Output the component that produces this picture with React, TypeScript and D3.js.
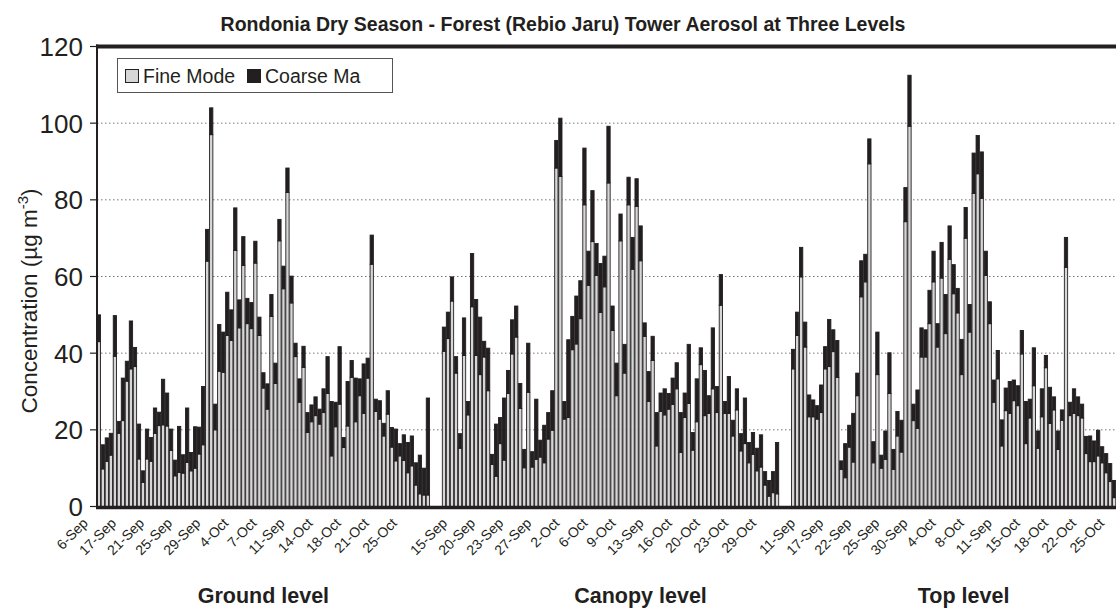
import React, { useRef, useEffect } from 'react';
import * as d3 from 'd3';

// Fine mode / coarse mode concentrations (ug m-3), one value per sample
const groundFine = [43, 9.8, 11.8, 13.4, 39.2, 19.1, 22.4, 32.7, 35.9, 36.5, 12.4, 6.3, 12.4, 11.8, 19.1, 21.1, 21.3, 21, 14.6, 8, 8.9, 8.7, 11.5, 9.3, 10, 13.7, 16.1, 64, 97, 20, 35.3, 35, 44.6, 43.3, 66.8, 46.6, 62.9, 47.7, 46.4, 63.5, 44.6, 30.9, 25.4, 49.6, 32.1, 69.3, 56.8, 81.9, 53.1, 39.1, 27.2, 36.3, 19.3, 22.1, 23.7, 21.5, 24.5, 29.5, 13.2, 20.8, 26.7, 15.4, 21, 33.7, 22.1, 28.9, 24.3, 33.5, 63.2, 24.8, 22.8, 18.4, 24.1, 15.5, 11.9, 13.2, 12, 8.8, 10.6, 5.6, 3.3, 3, 3];
const groundCoarse = [7, 6.3, 6.1, 5.7, 10.6, 3.1, 11.1, 5.2, 12.5, 5, 9.1, 3, 7.8, 6.2, 6.6, 3.5, 11.9, 8.6, 5.6, 4.1, 12, 4.8, 14.2, 4.8, 10.8, 7, 15.2, 8.3, 7, 6.7, 12.2, 10.5, 11.3, 8, 11.1, 7.3, 7.5, 6.6, 6.8, 5.7, 4.8, 4, 6.6, 5.7, 5.3, 5.6, 5.9, 6.4, 7, 3.5, 6.1, 5.5, 5.2, 4.4, 4.9, 3.9, 6.2, 9.6, 14.2, 6.4, 15, 2.6, 11.6, 4.4, 11.4, 4.4, 12.9, 5.2, 7.6, 3.2, 4.8, 3.3, 6.1, 5.1, 8.3, 3.2, 6.7, 7.9, 7.8, 5.8, 10.1, 7, 25.3];

const canopyFine = [40.5, 43.8, 53.6, 34.8, 15.2, 39.4, 23.9, 52.1, 39.4, 34.4, 39, 30.2, 11, 7.9, 16.4, 12.1, 29.5, 39.8, 44.2, 25.6, 10.1, 29.8, 10.3, 12.3, 12.9, 11.4, 17.6, 19.9, 88.3, 86.1, 22.8, 23.2, 40.9, 42.4, 49, 78.7, 57.7, 69.1, 60.3, 50.6, 57.3, 84.4, 45.9, 28.9, 69.3, 34.8, 78.7, 61.9, 78.3, 64.1, 44.4, 27.4, 38.1, 15.8, 24.8, 23.9, 25.4, 26.6, 30.7, 14.1, 23.2, 26.9, 14.7, 22.1, 37, 23.7, 24.3, 30.7, 24.5, 52.5, 24.3, 24.3, 18.4, 25.2, 14.5, 16.4, 11.4, 13.6, 9.3, 10.3, 5.6, 2.7, 3.6, 3.3];
const canopyCoarse = [6.3, 6.9, 6.3, 4.3, 3.8, 9.8, 3.5, 13.9, 14.6, 15, 4.1, 11.1, 2.6, 13.6, 6.8, 16.2, 6, 8.9, 8.1, 6.5, 4.8, 12.8, 4, 15.7, 4.4, 9.8, 6.9, 10.3, 7.2, 15.2, 4.6, 20.3, 8.7, 12.5, 9.9, 14.8, 8.9, 13.3, 8.3, 12.8, 8, 14.8, 6.4, 8.5, 7, 7.5, 7.2, 8.3, 7.2, 9.1, 3.5, 7.8, 6.3, 8.7, 4.8, 6.8, 4.1, 6.9, 6.8, 10.4, 6.4, 15.4, 4.6, 11.2, 4.4, 11.8, 4.6, 15.9, 6.8, 8, 3.1, 9.6, 4.1, 5.5, 4.5, 11.9, 5.3, 5.7, 5.9, 8.4, 3.5, 4.1, 5.5, 13.4];

const topFine = [35.9, 44.6, 59.9, 41.6, 23.4, 23.4, 22.8, 24.5, 35.9, 36.5, 40.4, 33.7, 9.7, 7.5, 15.5, 11.6, 28.9, 54.7, 58.6, 89.4, 11.4, 34.4, 10, 12.3, 29.5, 9.7, 18.4, 14.2, 74.3, 99.2, 22.4, 20.4, 39, 39, 47.7, 58.6, 41.6, 59.6, 45.1, 64.5, 55.5, 50.5, 34.4, 70, 45.5, 81.7, 86.8, 80.4, 60.3, 47.7, 27.2, 33.3, 15.8, 25, 24.3, 27.6, 26.3, 39.8, 16.4, 23.1, 31.5, 15.2, 23.4, 36.2, 21.7, 25.2, 14.9, 22.5, 62.4, 23.7, 24.3, 23.7, 23.1, 13.8, 11.7, 11.7, 13.2, 11.4, 8.8, 6.5, 2.3];
const topCoarse = [5.1, 6.1, 7.7, 6.5, 5.7, 4.4, 3.5, 7.2, 5.8, 12.3, 5.7, 9.6, 2.2, 8.9, 5.7, 12.7, 5.9, 9.4, 7.2, 6.5, 5.5, 11.1, 3.4, 7.4, 10.6, 5.2, 6.4, 8.3, 8.9, 13.3, 4.3, 10, 7.6, 7.1, 8.7, 8, 6.1, 9.3, 10.2, 8.7, 7.6, 6.4, 9.2, 8, 7.2, 10.5, 10, 12.1, 6.3, 5.7, 5.8, 7.4, 6.8, 5.9, 8.3, 5.4, 5.2, 6.1, 11, 4.9, 9.9, 4.5, 7.3, 3.2, 9.4, 3.4, 4.8, 2.7, 7.8, 3.5, 6.4, 4.9, 3.6, 4.5, 6.7, 5.4, 6.7, 4.2, 5, 4.7, 4.5];

// date labels shown under each group (every 7th sample)
const groundTicks = ['6-Sep', '17-Sep', '21-Sep', '25-Sep', '29-Sep', '4-Oct', '7-Oct', '11-Sep', '14-Oct', '18-Oct', '21-Oct', '25-Oct'];
const canopyTicks = ['15-Sep', '20-Sep', '23-Sep', '27-Sep', '2-Oct', '6-Oct', '9-Oct', '13-Sep', '16-Oct', '20-Oct', '23-Oct', '29-Oct'];
const topTicks = ['11-Sep', '17-Sep', '22-Sep', '25-Sep', '30-Sep', '4-Oct', '8-Oct', '11-Sep', '15-Oct', '18-Oct', '22-Oct', '25-Oct'];

const groupNames = ['Ground level', 'Canopy level', 'Top level'];
const yTicks = [0, 20, 40, 60, 80, 100, 120];

interface Cat {
    key: string;
    fine: number;
    coarse: number;
    label: string | null;
    gap: boolean;
    group: number;
}

const GAP = 3;
const LABEL_STEP = 7;
// small per-group nudges (px) for tick labels and group names
const labelShift = [-10, 4, 3];
const nameShift = [0, 30, 10];

function buildCategories(): Cat[] {
    const groups = [
        { fine: groundFine, coarse: groundCoarse, ticks: groundTicks },
        { fine: canopyFine, coarse: canopyCoarse, ticks: canopyTicks },
        { fine: topFine, coarse: topCoarse, ticks: topTicks },
    ];
    const cats: Cat[] = [];
    groups.forEach((g, gi) => {
        if (gi > 0) {
            for (let k = 0; k < GAP; k++) {
                cats.push({ key: `gap${gi}-${k}`, fine: 0, coarse: 0, label: null, gap: true, group: -1 });
            }
        }
        g.fine.forEach((f, i) => {
            const label = i % LABEL_STEP === 0 ? g.ticks[i / LABEL_STEP] ?? null : null;
            cats.push({ key: `g${gi}-${i}`, fine: f, coarse: g.coarse[i], label, gap: false, group: gi });
        });
    });
    return cats;
}

const Chart: React.FC = () => {
    const ref = useRef<SVGSVGElement>(null);

    useEffect(() => {
        if (ref.current) draw();
    }, []);

    const draw = () => {
        const svg = d3.select(ref.current);
        svg.selectAll('*').remove();

        const font = 'Liberation Sans, Arial, sans-serif';
        const dark = '#231f20';
        const left = 97, right = 1116, top = 46.5, bottom = 506.5;

        const cats = buildCategories();

        const x = d3.scaleBand<string>()
            .domain(cats.map(d => d.key))
            .range([left, right])
            .paddingInner(0.18)
            .paddingOuter(0.05);

        const y = d3.scaleLinear().domain([0, 120]).range([bottom, top]);

        const stacked = d3.stack<Cat>().keys(['fine', 'coarse'])(cats);

        // title
        svg.append('text')
            .attr('x', 563).attr('y', 31)
            .attr('text-anchor', 'middle')
            .attr('font-family', font).attr('font-weight', 'bold').attr('font-size', 19.5)
            .attr('fill', dark)
            .text('Rondonia Dry Season - Forest (Rebio Jaru) Tower Aerosol at Three Levels');

        // gridlines
        svg.append('g')
            .selectAll('line')
            .data(yTicks.filter(t => t > 0 && t < 120))
            .enter().append('line')
            .attr('x1', left).attr('x2', right)
            .attr('y1', d => y(d)).attr('y2', d => y(d))
            .attr('stroke', '#777').attr('stroke-width', 1)
            .attr('stroke-dasharray', '1.5,2.5');

        // bars
        const colors = ['#d6d6d6', dark];
        stacked.forEach((layer, li) => {
            svg.append('g')
                .selectAll('rect')
                .data(layer.filter(d => !d.data.gap))
                .enter().append('rect')
                .attr('x', d => x(d.data.key)!)
                .attr('width', x.bandwidth())
                .attr('y', d => y(d[1]))
                .attr('height', d => y(d[0]) - y(d[1]))
                .attr('fill', colors[li])
                .attr('stroke', dark)
                .attr('stroke-width', 0.9);
        });

        // frame: left axis, thick top border, thick base line
        svg.append('line')
            .attr('x1', left).attr('x2', left).attr('y1', top - 2).attr('y2', bottom + 2)
            .attr('stroke', dark).attr('stroke-width', 2);
        svg.append('line')
            .attr('x1', left - 1).attr('x2', right).attr('y1', top).attr('y2', top)
            .attr('stroke', dark).attr('stroke-width', 4);
        svg.append('line')
            .attr('x1', left - 1).attr('x2', right).attr('y1', bottom + 1).attr('y2', bottom + 1)
            .attr('stroke', dark).attr('stroke-width', 3.5);

        // y axis ticks + labels
        const yAxis = svg.append('g');
        yAxis.selectAll('line')
            .data(yTicks)
            .enter().append('line')
            .attr('x1', left - 7).attr('x2', left)
            .attr('y1', d => y(d)).attr('y2', d => y(d))
            .attr('stroke', dark).attr('stroke-width', 1.2);
        yAxis.selectAll('text')
            .data(yTicks)
            .enter().append('text')
            .attr('x', 83).attr('y', d => y(d))
            .attr('dy', '0.36em')
            .attr('text-anchor', 'end')
            .attr('font-family', font).attr('font-size', 26)
            .attr('fill', dark)
            .text(d => d);

        // y title with superscript
        const yTitle = svg.append('text')
            .attr('transform', 'translate(37,301) rotate(-90)')
            .attr('text-anchor', 'middle')
            .attr('font-family', font).attr('font-size', 22.5)
            .attr('fill', dark);
        yTitle.append('tspan').text('Concentration (\u00b5g m');
        yTitle.append('tspan').attr('dy', -9).attr('font-size', 15).text('-3');
        yTitle.append('tspan').attr('dy', 9).text(')');

        // x tick labels (rotated)
        svg.append('g')
            .selectAll('text')
            .data(cats.filter(d => d.label))
            .enter().append('text')
            .attr('transform', d => `translate(${x(d.key)! + x.bandwidth() / 2 + labelShift[d.group]},524) rotate(-45)`)
            .attr('text-anchor', 'end')
            .attr('font-family', font).attr('font-size', 14)
            .attr('fill', dark)
            .text(d => d.label as string);

        // group names under their bars
        svg.append('g')
            .selectAll('text')
            .data(groupNames)
            .enter().append('text')
            .attr('x', (d, gi) => {
                const g = cats.filter(c => c.group === gi);
                const x0 = x(g[0].key)!;
                const x1 = x(g[g.length - 1].key)! + x.bandwidth();
                return (x0 + x1) / 2 + nameShift[gi];
            })
            .attr('y', 603)
            .attr('text-anchor', 'middle')
            .attr('font-family', font).attr('font-weight', 'bold').attr('font-size', 21.5)
            .attr('fill', dark)
            .text(d => d);

        // legend
        const lg = svg.append('g');
        lg.append('rect')
            .attr('x', 117.5).attr('y', 58.5).attr('width', 275).attr('height', 34)
            .attr('fill', '#fff').attr('stroke', '#555').attr('stroke-width', 1);
        const items = [
            { name: 'Fine Mode', color: colors[0], x: 125 },
            { name: 'Coarse Ma', color: colors[1], x: 247 },
        ];
        items.forEach(it => {
            lg.append('rect')
                .attr('x', it.x + 0.5).attr('y', 69.5).attr('width', 13).attr('height', 13)
                .attr('fill', it.color).attr('stroke', dark).attr('stroke-width', 1);
            lg.append('text')
                .attr('x', it.x + 18).attr('y', 83)
                .attr('font-family', font).attr('font-size', 19.5)
                .attr('fill', dark)
                .text(it.name);
        });
    };

    return (
        <svg ref={ref} width={1116} height={608}
            style={{ position: 'absolute', left: 0, top: 0, background: '#fff' }} />
    );
};

const App = () => <Chart />;

export default App;
